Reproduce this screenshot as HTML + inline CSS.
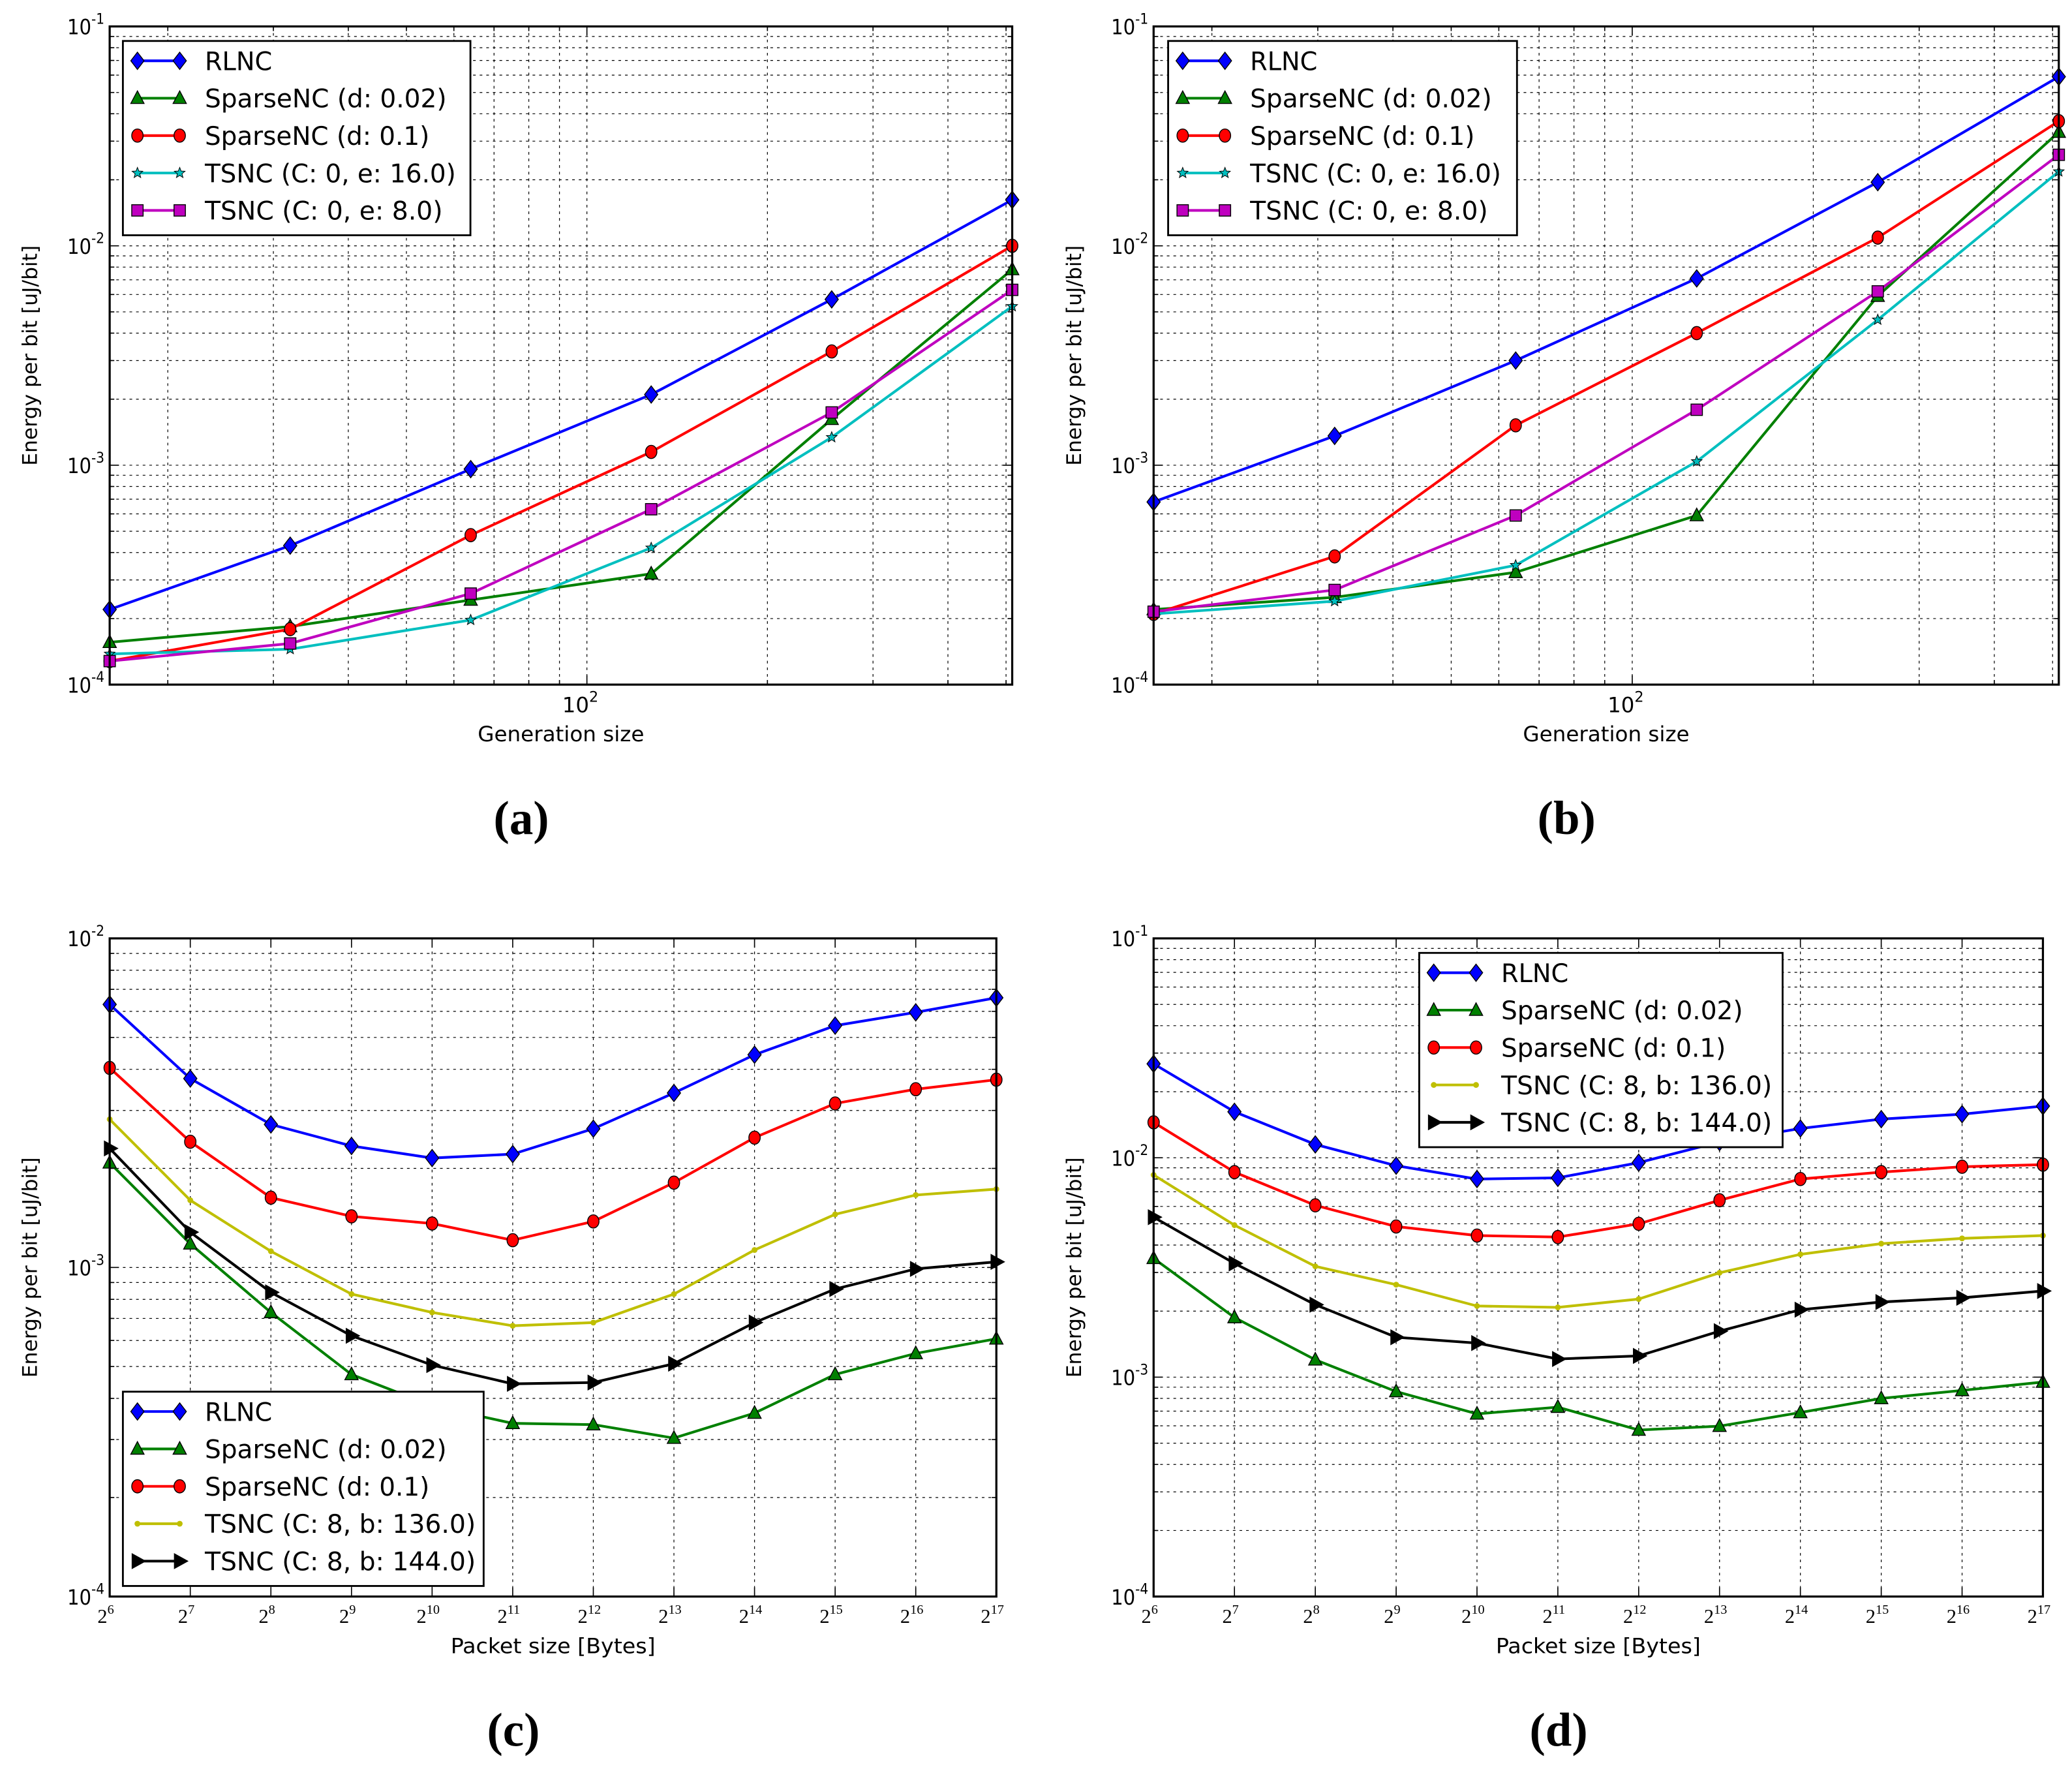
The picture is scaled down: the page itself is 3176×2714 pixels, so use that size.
<!DOCTYPE html>
<html><head><meta charset="utf-8">
<style>
html,body{margin:0;padding:0;background:#fff;}
svg{display:block;}
</style></head>
<body>
<svg id="fig" width="3176" height="2714" viewBox="0 0 1568 1340" preserveAspectRatio="none" xmlns="http://www.w3.org/2000/svg" font-family="DejaVu Sans, Liberation Sans, sans-serif"></svg>
<script>
// ---- data ----
const genSizes=[16,32,64,128,256,512];
const pktSizes=[64,128,256,512,1024,2048,4096,8192,16384,32768,65536,131072];
const aRLNC=[2.2e-4,4.3e-4,9.6e-4,2.1e-3,5.7e-3,1.62e-2];
const aSp002=[1.56e-4,1.84e-4,2.43e-4,3.2e-4,1.62e-3,7.8e-3];
const aSp01=[1.28e-4,1.79e-4,4.8e-4,1.15e-3,3.3e-3,1.0e-2];
const aTs16=[1.38e-4,1.45e-4,1.97e-4,4.2e-4,1.34e-3,5.3e-3];
const aTs8=[1.28e-4,1.54e-4,2.6e-4,6.3e-4,1.74e-3,6.3e-3];
const bRLNC=[6.8e-4,1.36e-3,3.0e-3,7.1e-3,1.95e-2,5.9e-2];
const bSp002=[2.2e-4,2.5e-4,3.25e-4,5.9e-4,5.9e-3,3.3e-2];
const bSp01=[2.1e-4,3.84e-4,1.52e-3,4.0e-3,1.09e-2,3.7e-2];
const bTs16=[2.1e-4,2.4e-4,3.5e-4,1.04e-3,4.6e-3,2.18e-2];
const bTs8=[2.15e-4,2.7e-4,5.9e-4,1.79e-3,6.2e-3,2.6e-2];
const cRLNC=[6.3e-3,3.75e-3,2.72e-3,2.34e-3,2.15e-3,2.21e-3,2.64e-3,3.39e-3,4.43e-3,5.43e-3,5.96e-3,6.6e-3];
const cSp01=[4.04e-3,2.41e-3,1.63e-3,1.43e-3,1.36e-3,1.21e-3,1.38e-3,1.81e-3,2.48e-3,3.15e-3,3.48e-3,3.72e-3];
const cTs136=[2.82e-3,1.6e-3,1.12e-3,8.3e-4,7.3e-4,6.65e-4,6.8e-4,8.3e-4,1.13e-3,1.45e-3,1.66e-3,1.73e-3];
const cTs144=[2.3e-3,1.28e-3,8.4e-4,6.2e-4,5.05e-4,4.43e-4,4.47e-4,5.1e-4,6.8e-4,8.6e-4,9.9e-4,1.04e-3];
const cSp002=[2.08e-3,1.18e-3,7.3e-4,4.73e-4,3.8e-4,3.36e-4,3.33e-4,3.03e-4,3.61e-4,4.73e-4,5.48e-4,6.07e-4];
const dRLNC=[2.68e-2,1.62e-2,1.15e-2,9.2e-3,8.0e-3,8.1e-3,9.5e-3,1.18e-2,1.36e-2,1.5e-2,1.58e-2,1.72e-2];
const dSp01=[1.45e-2,8.6e-3,6.07e-3,4.86e-3,4.42e-3,4.35e-3,5.0e-3,6.4e-3,8.0e-3,8.6e-3,9.1e-3,9.3e-3];
const dTs136=[8.35e-3,4.93e-3,3.2e-3,2.64e-3,2.11e-3,2.08e-3,2.27e-3,2.99e-3,3.63e-3,4.06e-3,4.29e-3,4.42e-3];
const dTs144=[5.36e-3,3.3e-3,2.14e-3,1.52e-3,1.43e-3,1.21e-3,1.25e-3,1.62e-3,2.03e-3,2.2e-3,2.3e-3,2.47e-3];
const dSp002=[3.48e-3,1.87e-3,1.2e-3,8.6e-4,6.8e-4,7.3e-4,5.74e-4,5.98e-4,6.9e-4,8.0e-4,8.7e-4,9.5e-4];
const labelsAB=["RLNC","SparseNC (d: 0.02)","SparseNC (d: 0.1)","TSNC (C: 0, e: 16.0)","TSNC (C: 0, e: 8.0)"];
const labelsCD=["RLNC","SparseNC (d: 0.02)","SparseNC (d: 0.1)","TSNC (C: 8, b: 136.0)","TSNC (C: 8, b: 144.0)"];

const NS="http://www.w3.org/2000/svg";
const fig=document.getElementById('fig');
function mk(tag,attrs,parent){const e=document.createElementNS(NS,tag);for(const k in attrs)e.setAttribute(k,attrs[k]);(parent||fig).appendChild(e);return e;}

function marker(g,type,x,y,color){
  let e;
  if(type==='diamond'){e=mk('polygon',{points:`${x},${y-6.5} ${x+5},${y} ${x},${y+6.5} ${x-5},${y}`,fill:color,stroke:'#000','stroke-width':0.7},g);}
  else if(type==='tri'){e=mk('polygon',{points:`${x},${y-5.5} ${x+5},${y+4} ${x-5},${y+4}`,fill:color,stroke:'#000','stroke-width':0.7},g);}
  else if(type==='circle'){e=mk('ellipse',{cx:x,cy:y,rx:4.3,ry:5,fill:color,stroke:'#000','stroke-width':0.7},g);}
  else if(type==='square'){e=mk('rect',{x:x-4.3,y:y-4.3,width:8.6,height:8.6,fill:color,stroke:'#000','stroke-width':0.7},g);}
  else if(type==='dot'){e=mk('circle',{cx:x,cy:y,r:2.2,fill:color},g);}
  else if(type==='rtri'){e=mk('polygon',{points:`${x+6},${y} ${x-4},${y-5.5} ${x-4},${y+5.5}`,fill:color,stroke:'#000','stroke-width':0.7},g);}
  else if(type==='star'){let p=[];for(let i=0;i<10;i++){const r=i%2?1.8:4.2;const a=-Math.PI/2+i*Math.PI/5;p.push((x+r*Math.cos(a)).toFixed(2)+','+(y+r*Math.sin(a)).toFixed(2));}
    e=mk('polygon',{points:p.join(' '),fill:color,stroke:'#000','stroke-width':0.5},g);}
  
  
}

function panel(cfg){
  const g=mk('g',{});
  
  
  const {L,R,T,B}=cfg;
  const xs=v=>L+(Math.log(v)-Math.log(cfg.xmin))/(Math.log(cfg.xmax)-Math.log(cfg.xmin))*(R-L);
  const ys=v=>B-(Math.log10(v)-cfg.ymine)/(cfg.ymaxe-cfg.ymine)*(B-T);
  const grid=mk('g',{stroke:'#000','stroke-width':0.6,'stroke-dasharray':'2,3'},g);
  
  
  const ticks=mk('g',{stroke:'#000','stroke-width':0.8},g);
  for(let e=cfg.ymine;e<cfg.ymaxe;e++){
    for(let m=1;m<10;m++){
      const y=ys(m*Math.pow(10,e));
      if(m>1||e>cfg.ymine) mk('line',{x1:L,x2:R,y1:y,y2:y},grid);
      const len=m===1?7:3.5;
      mk('line',{x1:L,x2:L+len,y1:y,y2:y},ticks);mk('line',{x1:R,x2:R-len,y1:y,y2:y},ticks);
    }
  }
  for(let e=cfg.ymine;e<=cfg.ymaxe;e++){
    const y=ys(Math.pow(10,e));
    const t=mk('text',{x:L-4,y:y+6,'text-anchor':'end','font-size':16,fill:'#000','font-stretch':'condensed'},g);
    
    
    t.textContent='10';
    const s=mk('tspan',{dy:-8,'font-size':11},t);s.textContent=String(e);
  }
  if(cfg.type==='gen'){
    const minors=[20,30,40,50,60,70,80,90,100,200,300,400,500];
    minors.forEach(v=>{const x=xs(v);mk('line',{x1:x,x2:x,y1:T,y2:B},grid);
      const len=v===100?7:3.5;mk('line',{x1:x,x2:x,y1:B,y2:B-len},ticks);mk('line',{x1:x,x2:x,y1:T,y2:T+len},ticks);});
    const t=mk('text',{x:xs(100)-5,y:B+21,'text-anchor':'middle','font-size':16},g);
    
    
    t.textContent='10';const s=mk('tspan',{dy:-8,'font-size':11},t);s.textContent='2';
  } else {
    pktSizes.forEach((v,i)=>{const x=xs(v);
      if(i>0&&i<pktSizes.length-1) mk('line',{x1:x,x2:x,y1:T,y2:B},grid);
      mk('line',{x1:x,x2:x,y1:B,y2:B-7},ticks);mk('line',{x1:x,x2:x,y1:T,y2:T+7},ticks);
      const t=mk('text',{x:x-3,y:B+20,'text-anchor':'middle','font-size':15,'font-family':'Liberation Serif, serif'},g);
      
      
      t.textContent='2';const s=mk('tspan',{dy:-7,'font-size':10},t);s.textContent=String(Math.round(Math.log2(v)));
    });
  }
  cfg.series.forEach((s,si)=>{
    const sg=mk('g',{},g);
    
    
    const pts=s.vals.map((v,i)=>xs(cfg.xvals[i]).toFixed(2)+','+ys(v).toFixed(2)).join(' ');
    mk('polyline',{points:pts,fill:'none',stroke:s.color,'stroke-width':2},sg);
    s.vals.forEach((v,i)=>marker(sg,s.marker,xs(cfg.xvals[i]),ys(v),s.color));
  });
  const fr=mk('rect',{x:L,y:T,width:R-L,height:B-T,fill:'none',stroke:'#000','stroke-width':1.6},g);
  
  
  const lg=mk('g',{},g);
  
  
  const lx=cfg.leg[0],ly=cfg.leg[1];
  mk('rect',{x:lx,y:ly,width:cfg.leg[2],height:147,fill:'#fff',stroke:'#000','stroke-width':1.4},lg);
  cfg.series.forEach((s,i)=>{
    const y=ly+15+i*28.3;
    const e=mk('g',{},lg);
    
    
    mk('line',{x1:lx+11,x2:lx+43,y1:y,y2:y,stroke:s.color,'stroke-width':2},e);
    marker(e,s.marker,lx+11,y,s.color);marker(e,s.marker,lx+43,y,s.color);
    const t=mk('text',{x:lx+62,y:y+7,'font-size':19.5,'font-stretch':'condensed',textLength:cfg.lens[i],lengthAdjust:'spacingAndGlyphs'},e);
    t.textContent=cfg.labels[i];
  });
  const yt=mk('text',{x:0,y:0,transform:`translate(${L-55},${(T+B)/2}) rotate(-90)`,'text-anchor':'middle','font-size':15.5},g);
  
  
  yt.textContent='Energy per bit [uJ/bit]';
  const xt=mk('text',{x:(L+R)/2,y:B+43,'text-anchor':'middle','font-size':16,'font-stretch':'condensed',textLength:cfg.xtlen,lengthAdjust:'spacingAndGlyphs'},g);
  
  
  xt.textContent=cfg.xtitle;
  const cap=mk('text',{x:(L+R)/2-30,y:B+113,'text-anchor':'middle','font-size':36,'font-family':'Liberation Serif, serif','font-weight':'bold'},g);
  
  
  cap.textContent='('+cfg.id+')';
}

const lensAB=[51,183,170,190,180];
const lensCD=[51,183,170,205,205];
panel({id:'a',type:'gen',L:83,R:766,T:20,B:518,xmin:16,xmax:512,ymine:-4,ymaxe:-1,xvals:genSizes,
  xtitle:'Generation size',xtlen:126,leg:[93,31,263],labels:labelsAB,lens:lensAB,
  series:[{name:'rlnc',vals:aRLNC,color:'#0000ff',marker:'diamond'},{name:'sparse-002',vals:aSp002,color:'#008000',marker:'tri'},
  {name:'sparse-01',vals:aSp01,color:'#ff0000',marker:'circle'},{name:'tsnc-e16',vals:aTs16,color:'#00bfbf',marker:'star'},
  {name:'tsnc-e8',vals:aTs8,color:'#bf00bf',marker:'square'}]});
panel({id:'b',type:'gen',L:873,R:1558,T:20,B:518,xmin:16,xmax:512,ymine:-4,ymaxe:-1,xvals:genSizes,
  xtitle:'Generation size',xtlen:126,leg:[884,31,264],labels:labelsAB,lens:lensAB,
  series:[{name:'rlnc',vals:bRLNC,color:'#0000ff',marker:'diamond'},{name:'sparse-002',vals:bSp002,color:'#008000',marker:'tri'},
  {name:'sparse-01',vals:bSp01,color:'#ff0000',marker:'circle'},{name:'tsnc-e16',vals:bTs16,color:'#00bfbf',marker:'star'},
  {name:'tsnc-e8',vals:bTs8,color:'#bf00bf',marker:'square'}]});
panel({id:'c',type:'pkt',L:83,R:754,T:710,B:1208,xmin:64,xmax:131072,ymine:-4,ymaxe:-2,xvals:pktSizes,
  xtitle:'Packet size [Bytes]',xtlen:155,leg:[93,1053,273],labels:labelsCD,lens:lensCD,
  series:[{name:'rlnc',vals:cRLNC,color:'#0000ff',marker:'diamond'},{name:'sparse-002',vals:cSp002,color:'#008000',marker:'tri'},
  {name:'sparse-01',vals:cSp01,color:'#ff0000',marker:'circle'},{name:'tsnc-b136',vals:cTs136,color:'#bfbf00',marker:'dot'},
  {name:'tsnc-b144',vals:cTs144,color:'#000000',marker:'rtri'}]});
panel({id:'d',type:'pkt',L:873,R:1546,T:710,B:1208,xmin:64,xmax:131072,ymine:-4,ymaxe:-1,xvals:pktSizes,
  xtitle:'Packet size [Bytes]',xtlen:155,leg:[1074,721,275],labels:labelsCD,lens:lensCD,
  series:[{name:'rlnc',vals:dRLNC,color:'#0000ff',marker:'diamond'},{name:'sparse-002',vals:dSp002,color:'#008000',marker:'tri'},
  {name:'sparse-01',vals:dSp01,color:'#ff0000',marker:'circle'},{name:'tsnc-b136',vals:dTs136,color:'#bfbf00',marker:'dot'},
  {name:'tsnc-b144',vals:dTs144,color:'#000000',marker:'rtri'}]});
</script>
</body></html>
